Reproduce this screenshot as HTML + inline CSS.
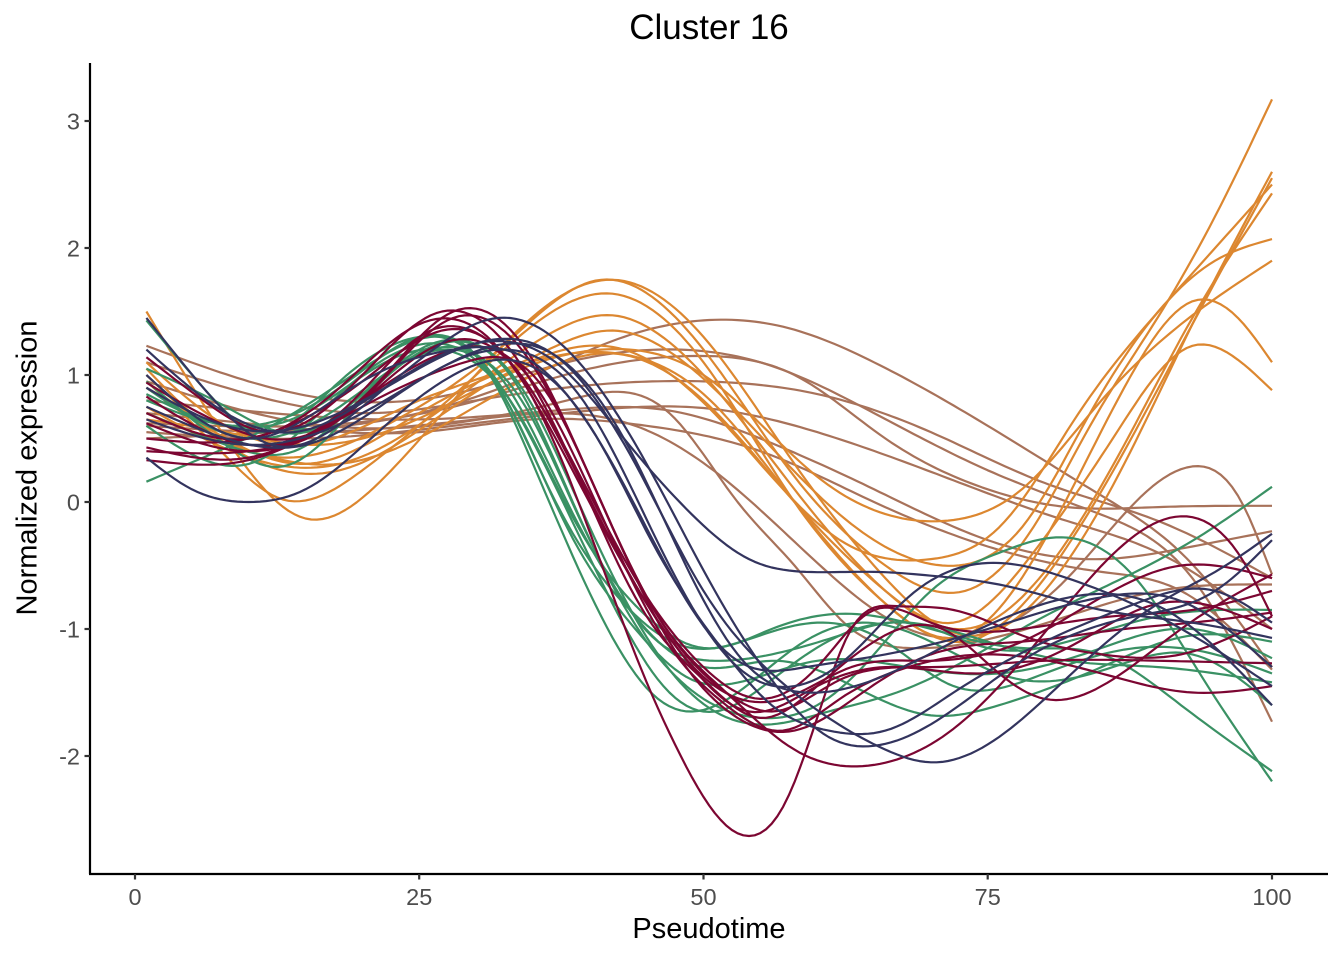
<!DOCTYPE html>
<html>
<head>
<meta charset="utf-8">
<style>
html,body{margin:0;padding:0;background:#fff;}
svg{display:block;}
text{font-family:"Liberation Sans",Arial,sans-serif;}
</style>
</head>
<body>
<svg id="chart" width="1344" height="960" viewBox="0 0 1344 960" xmlns="http://www.w3.org/2000/svg">
<rect x="0" y="0" width="1344" height="960" fill="#fff"/>
<g id="lines" fill="none" stroke-width="2.2" stroke-linejoin="round" stroke-linecap="butt"></g>
<!-- axes -->
<line x1="90" y1="63" x2="90" y2="874" stroke="#000" stroke-width="2.2"/>
<line x1="89" y1="874" x2="1328" y2="874" stroke="#000" stroke-width="2.2"/>
<g stroke="#333" stroke-width="2.2">
<line x1="84.5" y1="121" x2="90" y2="121"/>
<line x1="84.5" y1="248" x2="90" y2="248"/>
<line x1="84.5" y1="375" x2="90" y2="375"/>
<line x1="84.5" y1="502" x2="90" y2="502"/>
<line x1="84.5" y1="629" x2="90" y2="629"/>
<line x1="84.5" y1="756" x2="90" y2="756"/>
<line x1="135" y1="874" x2="135" y2="879.5"/>
<line x1="419.2" y1="874" x2="419.2" y2="879.5"/>
<line x1="703.5" y1="874" x2="703.5" y2="879.5"/>
<line x1="987.7" y1="874" x2="987.7" y2="879.5"/>
<line x1="1272" y1="874" x2="1272" y2="879.5"/>
</g>
<g fill="#4d4d4d" font-size="23.5" text-anchor="end">
<text x="80" y="129.4">3</text>
<text x="80" y="256.4">2</text>
<text x="80" y="383.4">1</text>
<text x="80" y="510.4">0</text>
<text x="80" y="637.4">-1</text>
<text x="80" y="764.4">-2</text>
</g>
<g fill="#4d4d4d" font-size="23.5" text-anchor="middle">
<text x="135" y="905">0</text>
<text x="419.2" y="905">25</text>
<text x="703.5" y="905">50</text>
<text x="987.7" y="905">75</text>
<text x="1272" y="905">100</text>
</g>
<text x="709" y="938" font-size="29" text-anchor="middle" fill="#000">Pseudotime</text>
<text transform="translate(36.5,468) rotate(-90)" x="0" y="0" font-size="29" text-anchor="middle" fill="#000">Normalized expression</text>
<text x="709" y="39" font-size="35" text-anchor="middle" fill="#000">Cluster 16</text>
</svg>
<script>
(function(){
var C={o:"#dc8730",b:"#a8725a",g:"#3a9164",m:"#7c0632",n:"#33345e"};
var S=[
// brown
["b",[1,0.5,12,0.55,25,0.7,35,1.0,43,1.3,50,1.43,57,1.38,65,1.1,75,0.6,85,0.05,92,-0.4,100,-1.3]],
["b",[1,1.23,10,0.95,18,0.8,28,0.85,38,1.1,46,1.2,55,1.1,65,0.7,75,0.25,85,-0.1,93,-0.6,100,-1.73]],
["b",[1,0.62,15,0.6,28,0.75,40,1.05,50,1.15,58,1.0,66,0.5,75,0.1,82,-0.04,90,-0.04,100,-0.03]],
["b",[1,1.1,10,0.85,20,0.7,30,0.8,40,0.92,50,0.95,60,0.85,70,0.55,80,0.15,90,-0.15,100,-0.6]],
["b",[1,0.55,15,0.5,28,0.6,40,0.72,50,0.74,60,0.55,72,0.17,82,-0.15,90,-0.4,100,-1.0]],
["b",[1,0.6,15,0.55,30,0.65,44,0.6,52,0.17,61,-0.56,68,-1.0,74,-1.05,82,-0.6,88,0.0,93,0.28,97,0.05,100,-0.57]],
["b",[1,0.8,12,0.7,25,0.65,37,0.72,47,0.72,55,0.5,65,0.1,75,-0.3,85,-0.45,93,-0.35,100,-0.23]],
["b",[1,0.95,15,0.62,28,0.62,38,0.8,47,0.7,53,0.0,58,-0.5,63,-1.0,68,-1.15,74,-1.1,82,-0.9,90,-0.7,100,-0.65]],
["b",[1,0.7,12,0.6,25,0.55,35,0.65,45,0.6,55,0.4,65,0.0,75,-0.35,85,-0.55,92,-0.7,100,-1.32]],
// orange
["o",[1,1.05,7,0.55,13,0.35,22,0.6,32,1.2,41,1.75,50,1.2,58,0.2,66,-0.5,73,-0.7,79,-0.2,84,0.6,90,1.46,95,2.25,100,3.17]],
["o",[1,1.5,8,0.5,15,-0.13,22,0.2,32,1.2,42,1.75,50,1.3,58,0.3,66,-0.6,73,-1.05,80,-0.7,87,0.3,93,1.4,100,2.6]],
["o",[1,0.95,7,0.45,13,0.02,20,0.25,30,1.0,42,1.64,50,1.1,58,0.0,66,-0.8,73,-1.1,80,-0.6,87,0.4,93,1.4,100,2.55]],
["o",[1,0.75,10,0.35,18,0.3,28,0.8,36,1.3,42,1.47,50,1.0,58,0.1,66,-0.7,73,-1.0,80,-0.55,87,0.45,93,1.45,100,2.43]],
["o",[1,1.1,8,0.6,15,0.45,25,0.8,34,1.1,42,1.35,52,0.8,62,-0.1,71,-0.5,78,-0.2,84,0.7,90,1.5,95,1.9,100,2.07]],
["o",[1,0.65,8,0.55,16,0.45,26,0.7,34,1.05,41,1.2,50,1.0,60,0.2,71,-0.15,78,0.1,85,0.8,92,1.4,100,1.9]],
["o",[1,0.9,8,0.5,15,0.3,25,0.7,33,1.05,41,1.18,50,0.85,58,0.0,66,-0.8,73,-1.05,80,-0.3,87,0.9,93,1.58,97,1.45,100,1.1]],
["o",[1,0.7,10,0.4,18,0.3,27,0.6,35,1.0,42,1.17,50,0.8,58,0.0,66,-0.7,72,-0.95,79,-0.4,86,0.5,93,1.23,97,1.12,100,0.88]],
["o",[1,1.0,10,0.35,18,0.25,28,0.75,36,1.15,43,1.2,52,0.6,62,-0.3,70,-0.45,76,-0.2,83,0.7,91,1.6,96,2.1,100,2.5]],
// green
["g",[1,1.43,6,0.9,11,0.55,18,0.95,25,1.3,30,1.15,36,0.3,42,-0.8,47,-1.5,51,-1.65,56,-1.4,62,-1.05,68,-0.95,75,-1.1,82,-1.25,90,-1.3,100,-1.42]],
["g",[1,0.16,6,0.35,12,0.6,20,1.05,26,1.3,30,1.15,35,0.3,41,-0.9,46,-1.55,49,-1.65,53,-1.5,58,-1.15,64,-0.95,70,-1.1,78,-1.4,86,-1.3,93,-1.2,100,-1.6]],
["g",[1,0.95,8,0.45,13,0.28,20,0.8,27,1.25,33,1.0,39,-0.1,45,-1.1,50,-1.55,55,-1.7,60,-1.6,65,-1.2,70,-0.7,76,-0.4,82,-0.28,88,-0.6,94,-1.4,100,-2.2]],
["g",[1,0.7,8,0.45,14,0.4,22,1.0,28,1.28,34,0.9,40,-0.2,46,-1.2,51,-1.65,56,-1.75,61,-1.65,67,-1.5,73,-1.25,80,-0.9,88,-0.55,94,-0.25,100,0.12]],
["g",[1,0.85,8,0.6,15,0.7,22,1.1,27,1.2,33,0.8,39,-0.2,45,-0.9,50,-1.15,56,-1.0,62,-0.88,70,-1.0,78,-1.15,85,-1.2,92,-1.6,100,-2.12]],
["g",[1,1.05,8,0.75,15,0.55,22,1.0,28,1.2,34,0.8,40,-0.3,46,-1.1,51,-1.25,56,-1.2,62,-1.05,68,-0.95,75,-1.15,82,-1.1,90,-0.9,100,-0.85]],
["g",[1,0.6,10,0.3,18,0.85,26,1.25,32,0.9,38,-0.2,44,-1.0,49,-1.4,54,-1.4,60,-1.25,68,-1.3,76,-1.35,85,-1.15,93,-1.0,100,-1.23]],
["g",[1,0.8,10,0.6,18,0.9,25,1.3,31,1.05,37,0.0,43,-0.8,49,-1.15,55,-1.05,60,-0.95,66,-1.1,72,-1.45,80,-1.35,88,-1.15,95,-1.2,100,-1.35]],
["g",[1,0.9,10,0.5,18,0.75,26,1.2,32,1.0,38,0.0,44,-0.9,50,-1.3,56,-1.25,62,-1.4,70,-1.68,76,-1.6,85,-1.3,93,-1.05,100,-1.1]],
// maroon
["m",[1,0.5,10,0.5,20,0.95,27,1.35,33,1.1,39,0.0,44,-1.2,48,-2.0,51,-2.45,54,-2.63,57,-2.4,60,-1.7,63,-1.0,67,-0.82,72,-0.85,78,-1.05,85,-1.2,92,-1.2,100,-0.9]],
["m",[1,0.4,10,0.4,20,0.8,28,1.45,34,1.2,40,0.2,46,-0.9,52,-1.5,58,-1.95,65,-2.07,71,-1.85,77,-1.35,84,-0.6,89,-0.2,93,-0.12,97,-0.4,100,-0.9]],
["m",[1,1.14,6,0.8,12,0.55,20,1.0,27,1.5,33,1.2,39,0.2,45,-0.9,50,-1.4,55,-1.7,60,-1.45,65,-1.1,71,-1.0,76,-1.35,80,-1.55,85,-1.45,92,-1.0,100,-0.57]],
["m",[1,0.94,8,0.6,14,0.5,22,1.0,28,1.5,34,1.25,40,0.2,46,-0.9,52,-1.5,56,-1.65,62,-1.4,70,-1.3,80,-1.25,90,-1.25,100,-1.27]],
["m",[1,0.83,10,0.45,18,0.7,26,1.35,32,1.2,38,0.4,44,-0.6,50,-1.3,55,-1.55,60,-1.3,65,-0.85,70,-0.95,78,-1.0,86,-0.9,93,-0.85,100,-0.7]],
["m",[1,0.62,10,0.4,18,0.65,27,1.25,33,1.1,39,0.2,45,-0.8,51,-1.45,57,-1.55,63,-1.3,70,-1.25,78,-1.1,85,-0.75,92,-0.5,100,-0.6]],
["m",[1,0.43,10,0.35,20,0.8,28,1.2,34,1.05,40,0.1,46,-1.0,52,-1.6,57,-1.8,62,-1.55,68,-1.3,75,-1.2,85,-1.35,93,-1.5,100,-1.45]],
["m",[1,0.33,10,0.33,20,0.75,29,1.1,35,1.0,41,0.0,47,-1.1,53,-1.7,58,-1.8,64,-1.5,70,-1.2,78,-1.1,87,-1.0,93,-0.95,100,-0.87]],
["m",[1,0.7,10,0.5,18,0.9,25,1.4,31,1.3,37,0.5,43,-0.5,49,-1.3,54,-1.65,60,-1.45,66,-1.3,74,-1.35,82,-1.15,90,-0.8,100,-1.0]],
// navy
["n",[1,0.35,5,0.1,10,0.0,15,0.1,22,0.6,28,1.0,34,1.1,40,0.6,46,-0.4,52,-1.2,56,-1.6,61,-1.8,66,-1.8,72,-1.5,80,-1.1,88,-0.8,95,-0.7,100,-0.95]],
["n",[1,1.2,8,0.7,14,0.55,22,0.9,30,1.25,37,1.1,43,0.5,49,-0.1,54,-0.45,59,-0.55,65,-0.55,70,-0.58,76,-0.65,85,-0.85,93,-0.95,100,-1.07]],
["n",[1,1.45,6,0.9,12,0.45,20,0.75,27,1.25,32,1.45,38,1.2,45,0.3,51,-0.7,56,-1.4,61,-1.85,65,-1.92,70,-1.75,78,-1.25,88,-0.9,95,-0.7,100,-0.3]],
["n",[1,0.9,8,0.6,15,0.6,23,0.95,30,1.25,37,1.15,44,0.3,50,-0.7,56,-1.35,61,-1.7,66,-1.95,70,-2.05,76,-1.85,83,-1.3,90,-0.8,95,-0.55,100,-0.25]],
["n",[1,0.75,8,0.5,15,0.45,24,0.9,32,1.2,39,0.85,47,-0.5,53,-1.3,58,-1.45,63,-1.2,68,-0.75,75,-0.48,82,-0.6,90,-0.9,100,-1.45]],
["n",[1,0.65,10,0.45,20,0.7,29,1.15,36,1.2,43,0.5,49,-0.6,54,-1.3,59,-1.5,65,-1.4,72,-1.1,80,-0.8,90,-0.82,100,-1.6]],
["n",[1,1.0,10,0.5,20,0.95,28,1.2,35,1.1,42,0.3,48,-0.7,53,-1.25,59,-1.3,66,-1.2,75,-1.0,85,-0.75,92,-0.78,100,-1.3]]
];
function spline(xs,ys){
  var n=xs.length,h=[],al=[],l=[],mu=[],z=[],c=[],b=[],d=[],i;
  for(i=0;i<n-1;i++)h[i]=xs[i+1]-xs[i];
  for(i=1;i<n-1;i++)al[i]=3/h[i]*(ys[i+1]-ys[i])-3/h[i-1]*(ys[i]-ys[i-1]);
  l[0]=1;mu[0]=0;z[0]=0;
  for(i=1;i<n-1;i++){l[i]=2*(xs[i+1]-xs[i-1])-h[i-1]*mu[i-1];mu[i]=h[i]/l[i];z[i]=(al[i]-h[i-1]*z[i-1])/l[i];}
  l[n-1]=1;z[n-1]=0;c[n-1]=0;
  for(i=n-2;i>=0;i--){c[i]=z[i]-mu[i]*c[i+1];b[i]=(ys[i+1]-ys[i])/h[i]-h[i]*(c[i+1]+2*c[i])/3;d[i]=(c[i+1]-c[i])/(3*h[i]);}
  return function(t){
    var j=0;while(j<n-2&&t>=xs[j+1])j++;
    var dt=t-xs[j];return ys[j]+b[j]*dt+c[j]*dt*dt+d[j]*dt*dt*dt;
  };
}
var g=document.getElementById("lines");
var ns="http://www.w3.org/2000/svg";
for(var k=0;k<S.length;k++){
  var arr=S[k][1],xs=[],ys=[];
  for(var i=0;i<arr.length;i+=2){xs.push(arr[i]);ys.push(arr[i+1]);}
  var f=spline(xs,ys),dstr="";
  for(var t=1;t<=100.001;t+=0.5){
    var px=135+11.37*t,py=502-127*f(t);
    dstr+=(t===1?"M":"L")+px.toFixed(1)+","+py.toFixed(1);
  }
  var p=document.createElementNS(ns,"path");
  p.setAttribute("d",dstr);p.setAttribute("stroke",C[S[k][0]]);
  g.appendChild(p);
}
})();
</script>
</body>
</html>
